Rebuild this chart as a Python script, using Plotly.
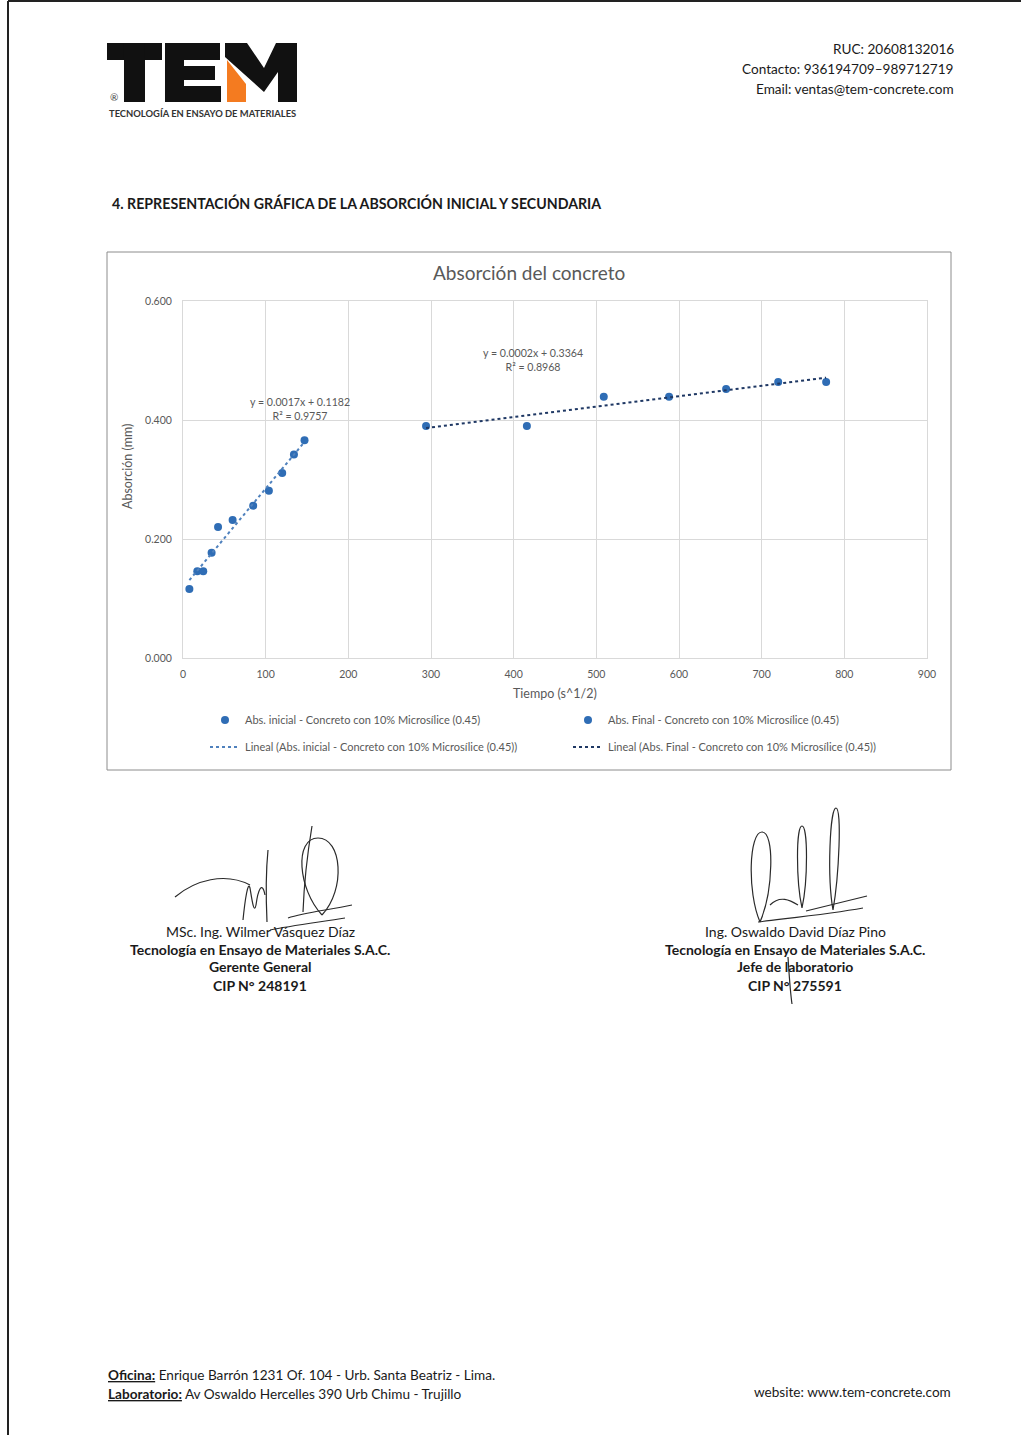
import numpy as np
import plotly.graph_objects as go

W, H = 1024, 1435

# --- datos ---
t_inicial = [7.7, 17.3, 24.5, 34.6, 42.4, 60.0, 84.9, 103.9, 120.0, 134.2, 147.0]
abs_inicial = [0.116, 0.146, 0.146, 0.177, 0.220, 0.232, 0.256, 0.281, 0.311, 0.342, 0.366]
t_final = [294, 416, 509, 588, 657, 720, 778]
abs_final = [0.390, 0.390, 0.439, 0.439, 0.452, 0.464, 0.464]

nombre_inicial = "Abs. inicial - Concreto con 10% Microsílice (0.45)"
nombre_final = "Abs. Final - Concreto con 10% Microsílice (0.45)"
ecuaciones = ["y = 0.0017x + 0.1182<br>R² = 0.9757", "y = 0.0002x + 0.3364<br>R² = 0.8968"]
ecu_pos = [(141, 0.418), (423, 0.500)]

x_ticks = list(range(0, 901, 100))
y_ticks = [0.0, 0.2, 0.4, 0.6]

AZUL = "#2F6DB5"
GRIS = "#595959"
FONT = "Lato"


def px(x):
    return x / W


def py(y):
    return 1 - y / H


def poly(pts):
    s = "M " + " L ".join(f"{px(x):.5f},{py(y):.5f}" for x, y in pts)
    return s + " Z"


def curve(pts):
    # pts: inicio y luego tríos de puntos de control bezier
    s = f"M {px(pts[0][0]):.5f},{py(pts[0][1]):.5f}"
    rest = pts[1:]
    for i in range(0, len(rest), 3):
        a, b, c = rest[i:i + 3]
        s += (f" C {px(a[0]):.5f},{py(a[1]):.5f} {px(b[0]):.5f},{py(b[1]):.5f}"
              f" {px(c[0]):.5f},{py(c[1]):.5f}")
    return s


def loop(xb, yb, xt, yt, w):
    h = yb - yt
    return curve([(xb, yb), (xb - w, yb - h / 3), (xt - w, yt), (xt, yt),
                  (xt + w, yt), (xb + w, yb - h / 3), (xb, yb)])


fig = go.Figure()

# puntos
fig.add_trace(go.Scatter(x=t_inicial, y=abs_inicial, mode="markers", name=nombre_inicial,
                         marker=dict(color=AZUL, size=8), legend="legend"))
fig.add_trace(go.Scatter(x=t_final, y=abs_final, mode="markers", name=nombre_final,
                         marker=dict(color=AZUL, size=8), legend="legend"))

# líneas de tendencia (ajuste lineal sobre los datos)
for xs, ys, col, nom in [(t_inicial, abs_inicial, "#4F81BD", nombre_inicial),
                         (t_final, abs_final, "#1F3864", nombre_final)]:
    m, b = np.polyfit(xs, ys, 1)
    xl = np.array([min(xs), max(xs)])
    fig.add_trace(go.Scatter(x=xl, y=m * xl + b, mode="lines", name=f"Lineal ({nom})",
                             line=dict(color=col, width=2, dash="dot"), legend="legend2"))

ann = []
for txt, (xa, ya) in zip(ecuaciones, ecu_pos):
    ann.append(dict(x=xa, y=ya, xref="x", yref="y", text=txt, showarrow=False,
                    font=dict(family=FONT, size=10.6, color=GRIS), align="center"))


def texto(x, y, t, size=14, anchor="center", bold=False, color="#1a1a1a"):
    if bold:
        t = f"<b>{t}</b>"
    ann.append(dict(x=px(x), y=py(y), xref="paper", yref="paper", text=t, showarrow=False,
                    xanchor=anchor, yanchor="middle",
                    font=dict(family=FONT, size=size, color=color)))


# títulos del gráfico
texto(529, 273, "Absorción del concreto", size=19, color=GRIS)
texto(555, 693, "Tiempo (s^1/2)", size=12.5, color=GRIS)
ann.append(dict(x=px(127), y=py(467), xref="paper", yref="paper", text="Absorción (mm)",
                showarrow=False, textangle=-90, xanchor="center", yanchor="middle",
                font=dict(family=FONT, size=12.5, color=GRIS)))

# encabezado
texto(956, 49, "RUC: 20608132016", size=13.6, anchor="right")
texto(956, 69, "Contacto: 936194709–989712719", size=13.6, anchor="right")
texto(956, 89, "Email: ventas@tem-concrete.com", size=13.6, anchor="right")
texto(110, 203, "4. REPRESENTACIÓN GRÁFICA DE LA ABSORCIÓN INICIAL Y SECUNDARIA",
      size=14.2, anchor="left", bold=True)
texto(114, 97, "®", size=10, color="#444")
texto(202, 114, "TECNOLOGÍA EN ENSAYO DE MATERIALES", size=9.4, bold=True, color="#333")

# firmas
for cx, lineas in [(260, ["MSc. Ing. Wilmer Vásquez Díaz", "Tecnología en Ensayo de Materiales S.A.C.",
                          "Gerente General", "CIP N° 248191"]),
                   (795, ["Ing. Oswaldo David Díaz Pino", "Tecnología en Ensayo de Materiales S.A.C.",
                          "Jefe de laboratorio", "CIP N° 275591"])]:
    for i, l in enumerate(lineas):
        texto(cx, 931 + 18 * i, l, size=14, bold=i > 0)

# pie de página
texto(106, 1375, "<b><u>Oficina:</u></b> Enrique Barrón 1231 Of. 104 - Urb. Santa Beatriz - Lima.",
      size=13.6, anchor="left")
texto(106, 1394, "<b><u>Laboratorio:</u></b> Av Oswaldo Hercelles 390 Urb Chimu - Trujillo",
      size=13.6, anchor="left")
texto(953, 1392, "website: www.tem-concrete.com", size=13.6, anchor="right")

shapes = []
# borde de página
shapes.append(dict(type="line", xref="paper", yref="paper", x0=px(8), x1=px(8), y0=0, y1=py(1),
                   line=dict(color="#222", width=2)))
shapes.append(dict(type="line", xref="paper", yref="paper", x0=px(8), x1=px(1021), y0=py(1), y1=py(1),
                   line=dict(color="#222", width=2)))
# marco del gráfico
shapes.append(dict(type="rect", xref="paper", yref="paper", x0=px(107), x1=px(951), y0=py(770), y1=py(252),
                   line=dict(color="#8C8C8C", width=1), layer="below"))

# logo TEM
negro = dict(type="path", xref="paper", yref="paper", fillcolor="#111", line=dict(width=0))
for r in [[(107, 43), (162, 43), (162, 60), (107, 60)],
          [(124, 43), (145, 43), (145, 102), (124, 102)],
          [(165, 43), (184, 43), (184, 102), (165, 102)],
          [(165, 43), (220, 43), (220, 60), (165, 60)],
          [(165, 66), (215, 66), (215, 80), (165, 80)],
          [(165, 86), (221, 86), (221, 102), (165, 102)],
          [(225, 43), (247, 43), (264, 68), (276, 43), (297, 43), (297, 102), (278, 102),
           (278, 72), (264, 92), (225, 57)]]:
    shapes.append(dict(negro, path=poly(r)))
shapes.append(dict(type="path", xref="paper", yref="paper", fillcolor="#F47B20", line=dict(width=0),
                   path=poly([(227, 60), (246, 84), (246, 102), (227, 102)])))

# trazos de firma
firma = dict(type="path", xref="paper", yref="paper", line=dict(color="#2a2a2a", width=1.2))
trazos = [
    curve([(175, 897), (195, 880), (225, 872), (250, 885)]),
    curve([(243, 920), (245, 900), (248, 880), (250, 888), (252, 900), (254, 915), (256, 905),
           (258, 890), (262, 880), (265, 895)]),
    curve([(268, 850), (266, 870), (266, 900), (267, 922)]),
    curve([(312, 826), (308, 850), (304, 885), (303, 912)]),
    loop(322, 915, 318, 838, 24),
    curve([(288, 918), (305, 912), (330, 910), (352, 905)]),
    curve([(270, 930), (290, 926), (320, 922), (345, 918)]),
    loop(760, 922, 762, 832, 13),
    loop(802, 908, 802, 826, 6),
    loop(833, 910, 836, 808, 6),
    curve([(770, 905), (780, 895), (790, 900), (798, 905)]),
    curve([(758, 922), (790, 918), (830, 914), (863, 908)]),
    curve([(806, 911), (830, 905), (850, 900), (867, 896)]),
    curve([(788, 957), (789, 972), (790, 990), (792, 1004)]),
]
for p in trazos:
    shapes.append(dict(firma, path=p))

eje = dict(showgrid=True, gridcolor="#D9D9D9", zeroline=False,
           showline=True, mirror=True, linecolor="#D9D9D9", ticks="",
           tickfont=dict(family=FONT, size=10.5, color=GRIS), automargin=False)

leyenda = dict(orientation="h", x=px(205), xanchor="left", yanchor="middle",
               entrywidth=318, entrywidthmode="pixels", bgcolor="rgba(0,0,0,0)",
               font=dict(family=FONT, size=11, color=GRIS))

fig.update_layout(
    width=W, height=H, margin=dict(l=0, r=0, t=0, b=0),
    paper_bgcolor="white", plot_bgcolor="white",
    xaxis=dict(eje, domain=[px(183), px(927)], range=[0, 900], tickvals=x_ticks,
               ticklabelstandoff=6),
    yaxis=dict(eje, domain=[py(658), py(301)], range=[0, 0.6], tickvals=y_ticks,
               tickformat=".3f", ticklabelstandoff=8),
    legend=dict(leyenda, y=py(720)),
    legend2=dict(leyenda, y=py(747)),
    annotations=ann, shapes=shapes,
)

fig.write_html("out.html", config={"displayModeBar": False},
               post_script="document.body.style.margin='0';")
